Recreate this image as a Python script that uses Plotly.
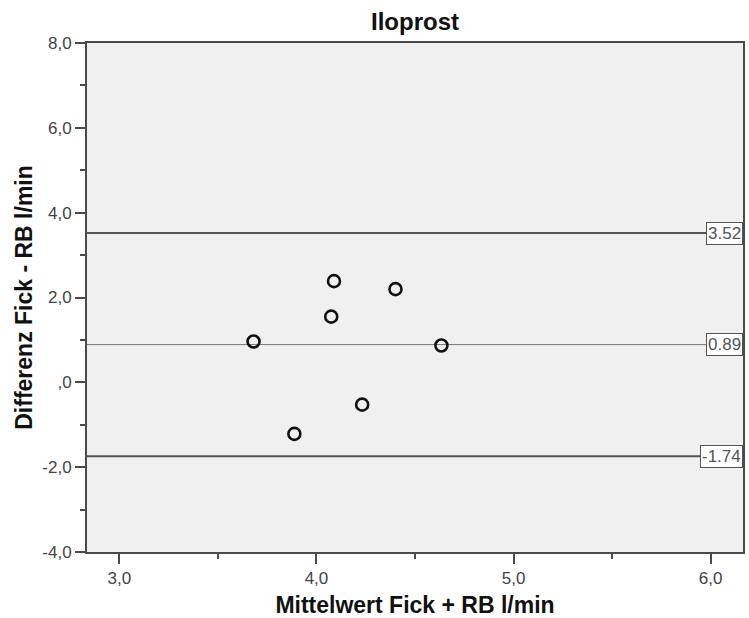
import plotly.graph_objects as go

# Data (Bland-Altman: mean vs difference)
mittelwert = [3.681, 4.089, 4.401, 4.075, 4.634, 4.232, 3.888]
differenz = [0.962, 2.385, 2.197, 1.549, 0.869, -0.526, -1.214]

ref_values = [3.52, 0.89, -1.74]
ref_labels = ["3.52", "0.89", "-1.74"]

x_tickvals = [3.0, 4.0, 5.0, 6.0]
x_ticktext = ["3,0", "4,0", "5,0", "6,0"]
x_minor = [3.5, 4.5, 5.5]
y_tickvals = [-4, -2, 0, 2, 4, 6, 8]
y_ticktext = ["-4,0", "-2,0", ",0", "2,0", "4,0", "6,0", "8,0"]
y_minor = [-3, -1, 1, 3, 5, 7]

FONT = "Liberation Sans, Arial, sans-serif"
AXC = "#4a4a4a"

fig = go.Figure()

# reference lines
ref_styles = [dict(color="#555555", width=2), dict(color="#777777", width=1), dict(color="#555555", width=2)]
for v, st in zip(ref_values, ref_styles):
    fig.add_shape(type="line", xref="paper", x0=0, x1=1, yref="y", y0=v, y1=v,
                  line=st, layer="below")

fig.add_trace(go.Scatter(
    x=mittelwert, y=differenz, mode="markers",
    marker=dict(symbol="circle", size=12, color="rgba(0,0,0,0)",
                line=dict(color="#111111", width=2.6)),
    showlegend=False, cliponaxis=False,
))

for v, lab in zip(ref_values, ref_labels):
    fig.add_annotation(x=1, xref="paper", xanchor="right", y=v, yref="y", yanchor="middle",
                       text=lab, showarrow=False, bgcolor="white", bordercolor="#555555",
                       borderwidth=1, borderpad=1,
                       font=dict(family=FONT, size=17, color="#555555"))

fig.update_layout(
    width=749, height=618,
    margin=dict(l=87, r=4, t=43, b=64),
    paper_bgcolor="white", plot_bgcolor="#f0f0f0",
    title=dict(text="<b>Iloprost</b>", x=0.5, xref="paper", xanchor="center",
               y=1 - 22 / 618, yref="container", yanchor="middle",
               font=dict(family=FONT, size=24, color="#111111")),
    font=dict(family=FONT),
)

fig.update_xaxes(
    range=[2.836, 6.164], showgrid=False, zeroline=False,
    showline=True, linecolor=AXC, linewidth=2, mirror=True,
    tickmode="array", tickvals=x_tickvals, ticktext=x_ticktext,
    ticks="outside", ticklen=10, tickwidth=2, tickcolor=AXC,
    tickfont=dict(family=FONT, size=17, color="#444444"),
    minor=dict(tickvals=x_minor, ticks="outside", ticklen=5, tickwidth=2, tickcolor=AXC, showgrid=False),
    title=dict(text="<b>Mittelwert Fick + RB l/min</b>", standoff=9,
               font=dict(family=FONT, size=23, color="#111111")),
)
fig.update_yaxes(
    range=[-4, 8], showgrid=False, zeroline=False,
    showline=True, linecolor=AXC, linewidth=2, mirror=True,
    tickmode="array", tickvals=y_tickvals, ticktext=y_ticktext,
    ticks="outside", ticklen=10, tickwidth=2, tickcolor=AXC,
    tickfont=dict(family=FONT, size=17, color="#444444"),
    minor=dict(tickvals=y_minor, ticks="outside", ticklen=5, tickwidth=2, tickcolor=AXC, showgrid=False),
    title=dict(text="<b>Differenz Fick - RB l/min</b>", standoff=3,
               font=dict(family=FONT, size=23, color="#111111")),
)

fig.write_html("out.html")
